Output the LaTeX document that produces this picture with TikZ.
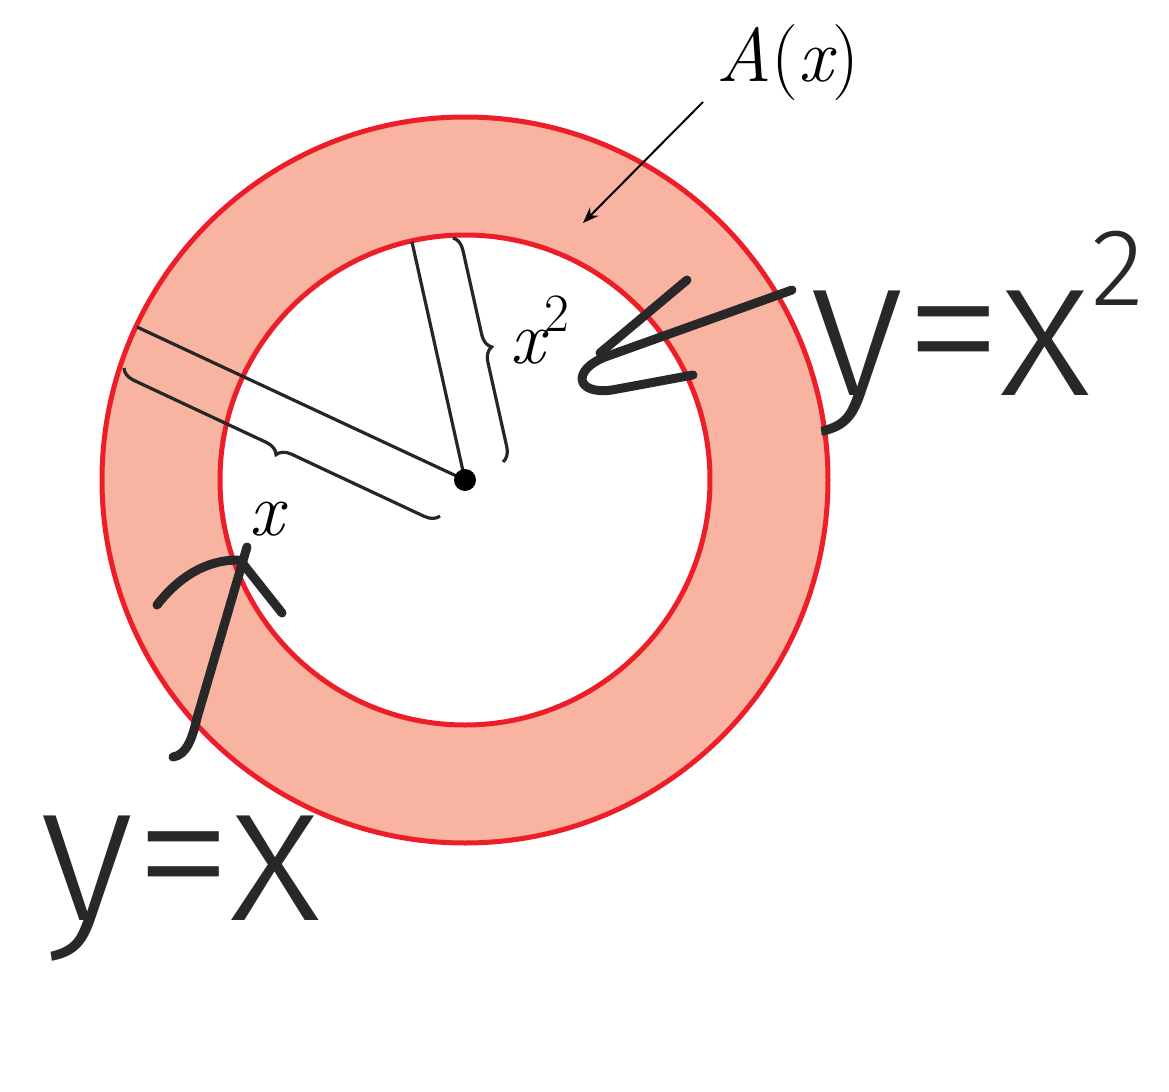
\documentclass[tikz,border=0pt]{standalone}
\usepackage{fontspec}
\newfontfamily\hand{Fira Sans Light}
\usetikzlibrary{decorations.pathreplacing,arrows.meta}
\definecolor{ringred}{RGB}{236,30,40}
\definecolor{ringfill}{RGB}{248,180,160}
\definecolor{ink}{RGB}{40,40,40}
\begin{document}
\begin{tikzpicture}[x=0.5pt,y=-0.5pt,
  ring/.style={draw=ringred,line width=2.5pt},
  radiusline/.style={line width=1.6pt, black!85},
  bracestyle/.style={line width=1.6pt, black!85, decorate, decoration={brace,amplitude=7pt,aspect=0.5}},
  mathlabel/.style={font=\fontsize{38}{40}\selectfont, inner sep=0pt},
  handtext/.style={font=\hand\fontsize{100}{100}\selectfont, text=ink, inner sep=0pt},
  handstroke/.style={draw=ink, line width=4.5pt, line cap=round, line join=round}]
\useasboundingbox (0,0) rectangle (1169,1092);
\coordinate (C) at (465,480);
\fill[ringfill, even odd rule] (C) circle (363) (C) circle (245);
\draw[ring] (C) circle (363);
\draw[ring] (C) circle (245);
\coordinate (Rout) at (137,327);
\coordinate (Rin) at (412,242);
\draw[radiusline] (C) -- (Rout);
\draw[radiusline] (C) -- (Rin);
\coordinate (bx1) at (440,516);
\coordinate (bx2) at (124,368);
\draw[bracestyle] (bx1) -- (bx2);
\coordinate (by1) at (453,238);
\coordinate (by2) at (503,462);
\draw[bracestyle] (by1) -- (by2);
\node[circle, fill=black, inner sep=0pt, minimum size=11pt] (dot) at (C) {};
\node[mathlabel, anchor=base] (Ax) at (788,82) {\itshape A\upshape(\itshape x\upshape)};
\coordinate (Atail) at (703,102);
\coordinate (Atip) at (583,223);
\draw[line width=1pt, -{Stealth[length=8pt,width=6pt]}] (Atail) -- (Atip);
\node[mathlabel, anchor=base] (xlab) at (267,535) {\itshape x};
\node[mathlabel, anchor=base west] (x2lab) at (510,363) {\itshape x\upshape\raisebox{0.42em}{\fontsize{27}{27}\selectfont 2}};
\node[handtext, anchor=base west] (yx) at (40,920) {y=x};
\node[handtext, anchor=base west] (yx2) at (810,395) {y=x\raisebox{0.45em}{\fontsize{55}{55}\selectfont 2}};
\coordinate (h1a) at (792,290);
\coordinate (h1b) at (693,375);
\coordinate (h1c) at (687,280);
\coordinate (h1d) at (600,353);
\draw[handstroke] (h1a) -- (605,357) .. controls (572,370) and (575,395) .. (612,390) -- (h1b);
\draw[handstroke] (h1c) -- (h1d);
\coordinate (h2a) at (173,757);
\coordinate (h2tip) at (247,547);
\draw[handstroke] (h2a) .. controls (186,755) and (192,740) .. (197,718) -- (h2tip);
\draw[handstroke] (157,605) .. controls (178,578) and (205,560) .. (238,560);
\draw[handstroke] (240,560) -- (282,613);
\end{tikzpicture}
\end{document}
